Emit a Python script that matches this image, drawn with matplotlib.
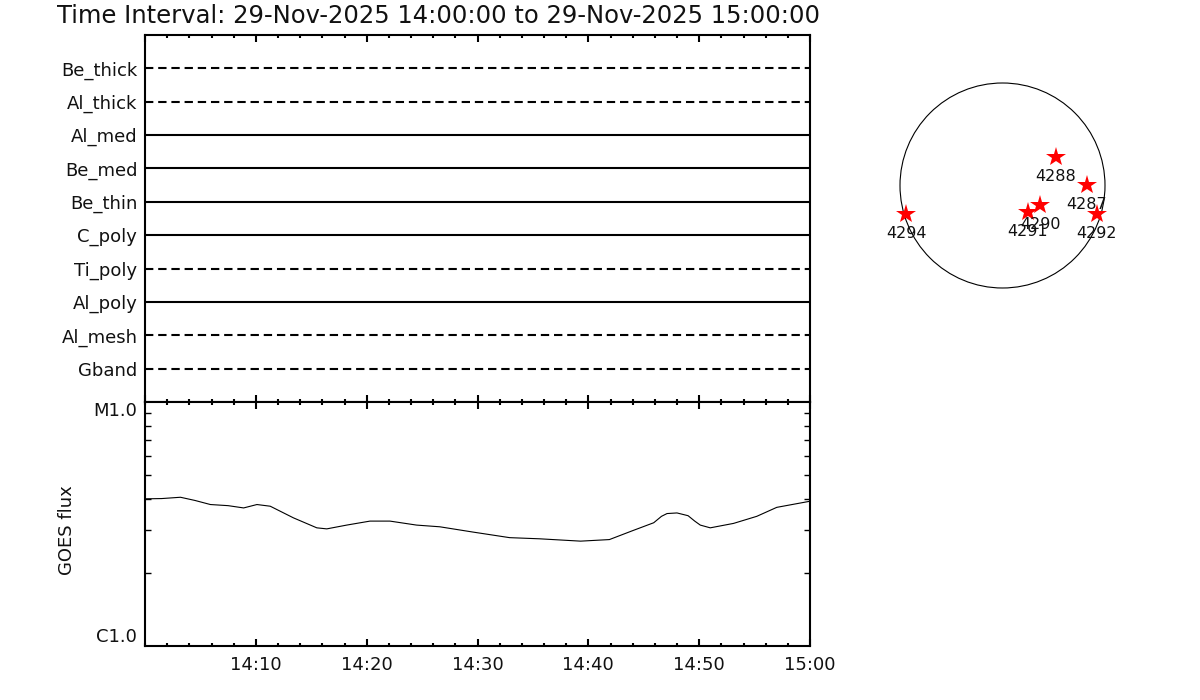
import numpy as np
import matplotlib
matplotlib.use("Agg")
import matplotlib.pyplot as plt
from matplotlib.patches import Circle
from matplotlib.ticker import FixedLocator, NullFormatter

plt.rcParams['font.family'] = ['DejaVu Sans']
plt.rcParams['lines.scale_dashes'] = False

# filter channels, bottom to top; True = dashed (no data)
channels = ["Gband", "Al_mesh", "Al_poly", "Ti_poly", "C_poly",
            "Be_thin", "Be_med", "Al_med", "Al_thick", "Be_thick"]
dashed = [True, True, False, True, False, False, False, False, True, True]

# GOES flux, minutes after 14:00 and flux in W/m^2 (x1e-6)
goes_min = [0, 1.5, 3.2, 4.5, 5.9, 7.5, 8.9, 10.1, 11.3, 13.4, 15.5, 16.4, 18.2,
            20.3, 22.1, 24.5, 26.6, 29.6, 32.9, 35.6, 39.3, 41.9, 44.0, 45.9,
            46.6, 47.1, 48.0, 49.0, 49.6, 50.1, 51.0, 53.1, 55.2, 57.0, 60.0]
goes_flux = [4.01, 4.02, 4.07, 3.95, 3.80, 3.76, 3.68, 3.80, 3.74, 3.35, 3.05,
             3.02, 3.13, 3.25, 3.25, 3.13, 3.08, 2.93, 2.78, 2.75, 2.69, 2.73,
             2.97, 3.20, 3.40, 3.49, 3.51, 3.42, 3.25, 3.13, 3.05, 3.18, 3.40,
             3.70, 3.92]

time_ticks = [10, 20, 30, 40, 50, 60]
time_labels = ["14:10", "14:20", "14:30", "14:40", "14:50", "15:00"]

# active regions on the disk (arcsec)
ar_names = ["4294", "4288", "4287", "4292", "4291", "4290"]
ar_x = [-913, 506, 797, 891, 238, 358]
ar_y = [-270, 267, 5, -270, -248, -185]
r_sun = 970

title = "Time Interval: 29-Nov-2025 14:00:00 to 29-Nov-2025 15:00:00"

fig = plt.figure(figsize=(12, 7), dpi=100)
W, H = 1200, 700
txt = '#111111'

def box(x0, y0, x1, y1):
    return [x0 / W, 1 - y1 / H, (x1 - x0) / W, (y1 - y0) / H]

ax1 = fig.add_axes(box(145, 35, 810, 402))
ax2 = fig.add_axes(box(145, 402, 810, 646))

# top panel: channel availability
for i, (name, d) in enumerate(zip(channels, dashed)):
    ax1.plot([0, 60], [i + 1, i + 1], color='black', lw=1.5,
             linestyle=(0, (6, 3.5)) if d else '-')
ax1.set_xlim(0, 60)
ax1.set_ylim(0, 11)
ax1.set_yticks(range(1, len(channels) + 1))
ax1.set_yticklabels(channels, fontsize=13, color=txt)
ax1.tick_params(axis='y', length=0, pad=5.5)
ax1.xaxis.set_major_locator(FixedLocator([0, 10, 20, 30, 40, 50, 60]))
ax1.xaxis.set_minor_locator(FixedLocator(np.arange(0, 61, 2)))
ax1.xaxis.set_major_formatter(NullFormatter())
ax1.tick_params(axis='x', which='both', direction='in', top=True, bottom=True, width=1.5)
ax1.tick_params(axis='x', which='major', length=5)
ax1.tick_params(axis='x', which='minor', length=2.5)

# bottom panel: GOES flux
ax2.plot(goes_min, np.array(goes_flux) * 1e-6, color='black', lw=0.8)
ax2.set_yscale('log')
ax2.set_ylim(1e-6, 1e-5)
ax2.set_xlim(0, 60)
ax2.set_yticks([1e-6, 1e-5])
ax2.set_yticklabels(["C1.0", "M1.0"], fontsize=13, color=txt)
ax2.get_yticklabels()[0].set_va('bottom')
ax2.get_yticklabels()[1].set_va('top')
ax2.yaxis.set_minor_locator(FixedLocator(np.arange(2, 10) * 1e-6))
ax2.yaxis.set_minor_formatter(NullFormatter())
ax2.tick_params(axis='y', which='major', length=0, pad=6)
ax2.tick_params(axis='y', which='minor', direction='in', left=True, right=True,
                length=4, width=1)
ax2.xaxis.set_major_locator(FixedLocator(time_ticks))
ax2.set_xticklabels(time_labels, fontsize=13, color=txt)
ax2.xaxis.set_minor_locator(FixedLocator(np.arange(0, 61, 2)))
ax2.tick_params(axis='x', which='both', direction='in', top=True, bottom=True, width=1.5)
ax2.tick_params(axis='x', which='major', length=5, pad=7)
ax2.tick_params(axis='x', which='minor', length=2.5)
fig.text(67 / W, 1 - 530 / H, "GOES flux", rotation=90, ha='center', va='center',
         fontsize=13, color=txt)

for ax in (ax1, ax2):
    for s in ax.spines.values():
        s.set_linewidth(1.5)

fig.text(57 / W, 1 - 16 / H, title, ha='left', va='center', fontsize=17.5,
         color=txt)

# solar disk with active regions
ax3 = fig.add_axes(box(880, 63, 1125, 308))
lim = r_sun * 122.5 / 102.5
ax3.set_xlim(-lim, lim)
ax3.set_ylim(-lim, lim)
ax3.set_aspect('equal')
ax3.axis('off')
ax3.add_patch(Circle((0, 0), r_sun, fill=False, color='black', lw=0.8))
ax3.plot(ar_x, ar_y, linestyle='none', marker='*', markersize=15,
         color='#ff0000', markeredgewidth=0)
for name, x, y in zip(ar_names, ar_x, ar_y):
    ax3.annotate(name, (x, y), xytext=(0, -14), textcoords='offset points',
                 ha='center', va='center', fontsize=11.5, color=txt)

fig.savefig("out.png", dpi=100)
